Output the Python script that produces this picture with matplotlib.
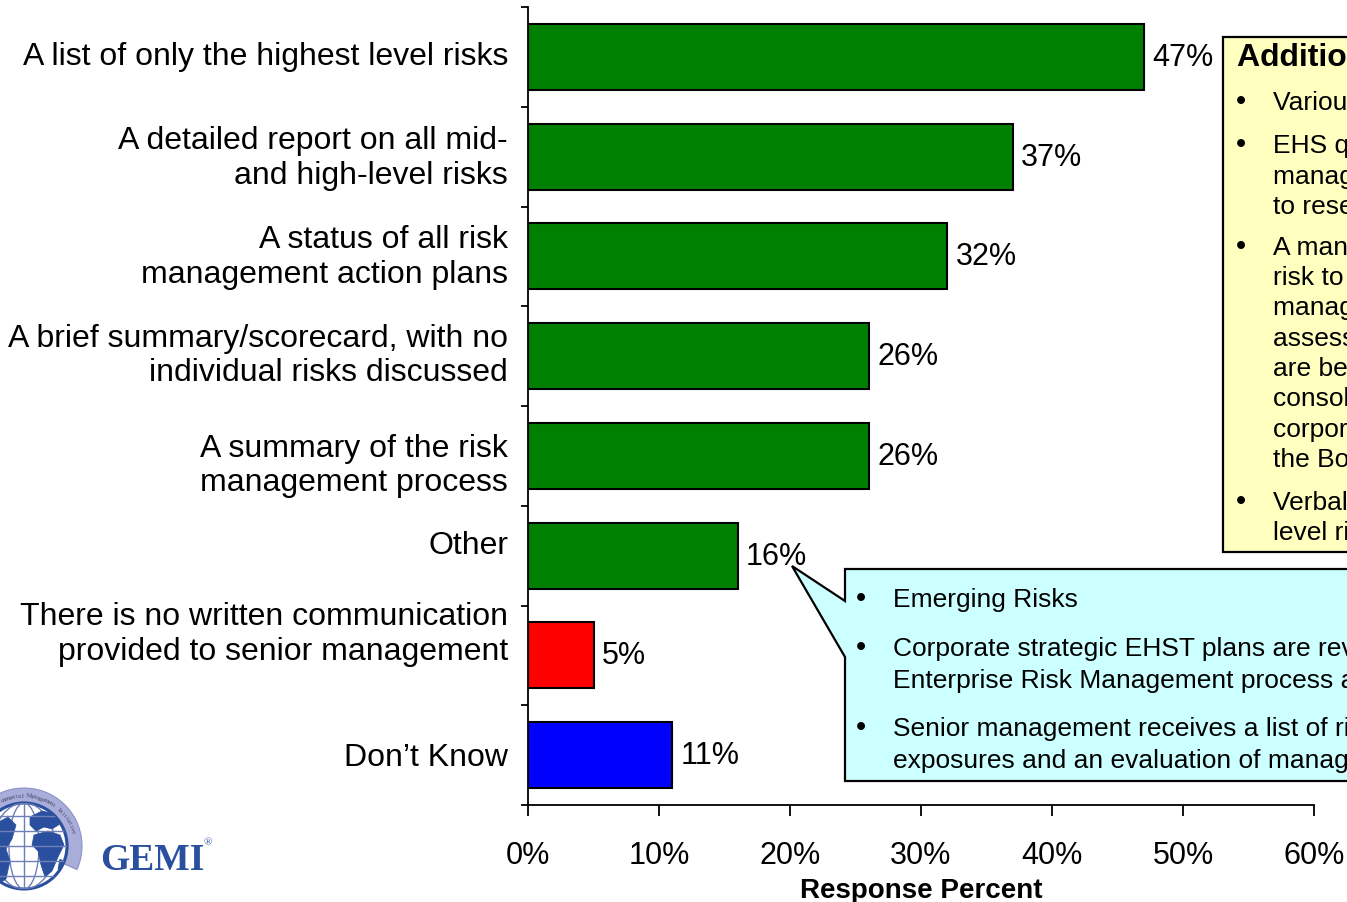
import numpy as np
import matplotlib
matplotlib.use("Agg")
import matplotlib.pyplot as plt
from matplotlib.patches import Rectangle, Polygon, Circle, Ellipse, Wedge
from matplotlib.transforms import ScaledTranslation

plt.rcParams['font.family'] = ['Liberation Sans', 'DejaVu Sans']

# ---- data -------------------------------------------------------------
categories = [
    "A list of only the highest level risks",
    "A detailed report on all mid-\nand high-level risks",
    "A status of all risk\nmanagement action plans",
    "A brief summary/scorecard, with no\nindividual risks discussed",
    "A summary of the risk\nmanagement process",
    "Other",
    "There is no written communication\nprovided to senior management",
    "Don\u2019t Know",
]
percent = [47, 37, 32, 26, 26, 16, 5, 11]
bar_colors = ["#008000"] * 6 + ["#FF0000", "#0000FF"]
x_ticks = [0, 10, 20, 30, 40, 50, 60]
x_label = "Response Percent"

additional_title = "Additional Responses"
additional_items = [
    ["Various formats"],
    ["EHS quarterly risk", "management reports", "to research teams"],
    ["A management review of", "risk to the business", "management teams", "assessments which", "are being",
     "consolidated at the", "corporate level for", "the Board"],
    ["Verbal reports on high-", "level risks"],
]
other_items = [
    ["Emerging Risks"],
    ["Corporate strategic EHST plans are reviewed within the",
     "Enterprise Risk Management process and approved"],
    ["Senior management receives a list of risk",
     "exposures and an evaluation of management actions"],
]

# ---- figure -----------------------------------------------------------
W, H = 1347, 903
fig = plt.figure(figsize=(W / 100, H / 100), dpi=100)
ax = fig.add_axes([528 / W, 1 - 806 / H, (1314 - 528) / W, (806 - 8) / H])

n = len(categories)
ypos = np.arange(n)
ax.barh(ypos, percent, height=0.66, color=bar_colors, edgecolor="black", linewidth=1.5, zorder=3)

for y, v in zip(ypos, percent):
    ax.text(v + 0.65, y, f"{v}%", ha="left", va="center", fontsize=22, zorder=4)

ax.set_xlim(0, 60)
ax.set_ylim(n - 0.5, -0.5)
ax.set_xticks(x_ticks)
ax.set_xticklabels([f"{t}%" for t in x_ticks], fontsize=22)
ax.tick_params(axis="x", direction="out", length=8, width=1.3, pad=17)
ax.set_yticks(np.arange(-0.5, n, 1.0))
ax.set_yticklabels([])
ax.tick_params(axis="y", direction="out", length=5, width=1.3)
for s in ("top", "right"):
    ax.spines[s].set_visible(False)
for s in ("left", "bottom"):
    ax.spines[s].set_linewidth(1.3)
ax.set_xlabel(x_label, fontsize=20, fontweight="bold", labelpad=5)

# category labels, right-aligned against the axis
label_shift_px = [-1, 1, 0, -1, 9, -11, -22, 2]
ytrans = ax.get_yaxis_transform()
for y, lab, dy in zip(ypos, categories, label_shift_px):
    tr = ytrans + ScaledTranslation(-20 / 100, -dy / 100, fig.dpi_scale_trans)
    ax.text(0, y, lab, transform=tr, ha="right", va="center", fontsize=23,
            linespacing=1.2, multialignment="right")

# ---- overlay in pixel coordinates -------------------------------------
ov = fig.add_axes([0, 0, 1, 1], zorder=5)
ov.set_xlim(0, W)
ov.set_ylim(H, 0)
ov.axis("off")
ov.patch.set_visible(False)

# yellow note box
ov.add_patch(Rectangle((1223, 38), 300, 515, facecolor="#FFFFC0", edgecolor="black", linewidth=1.6))
ov.text(1237, 66, additional_title, fontsize=23, fontweight="bold", va="baseline")
baselines_yellow = [[110], [153, 184, 214], [255, 285, 315, 346, 376, 406, 437, 467], [510, 540]]
for lines, bls in zip(additional_items, baselines_yellow):
    ov.text(1240.5, bls[0], "\u2022", fontsize=21, ha="center", va="baseline")
    for line, b in zip(lines, bls):
        ov.text(1273, b, line, fontsize=19, va="baseline")

# cyan callout pointing at the "Other" bar
callout = [(845, 570), (1420, 570), (1420, 782), (845, 782), (845, 658), (792, 567), (845, 602)]
ov.add_patch(Polygon(callout, closed=True, facecolor="#CCFFFF", edgecolor="black", linewidth=1.6))
baselines_cyan = [[607], [656, 688], [736, 768]]
for lines, bls in zip(other_items, baselines_cyan):
    ov.text(860.5, bls[0], "\u2022", fontsize=21, ha="center", va="baseline")
    for line, b in zip(lines, bls):
        ov.text(893, b, line, fontsize=19, va="baseline")

# ---- GEMI logo ----------------------------------------------------------
cx, cy, R = 24, 847, 43
logo_blue = "#2a4f9e"
ov.add_patch(Wedge((cx, cy), 58, -180, 24, width=14, facecolor="#A9ADD9", edgecolor="#8C92C8", linewidth=0.8))
globe = Circle((cx, cy), R, facecolor="white", edgecolor=logo_blue, linewidth=2.2)
ov.add_patch(globe)
clip = Circle((cx, cy), R, transform=ov.transData)
for k in (0.35, 0.72):
    e = Ellipse((cx, cy), 2 * R * k, 2 * R, facecolor="none", edgecolor="#6f7fb8", linewidth=1.0)
    ov.add_patch(e)
    e.set_clip_path(clip)
ln, = ov.plot([cx, cx], [cy - R, cy + R], color="#6f7fb8", linewidth=1.0)
ln.set_clip_path(clip)
for dy in (-30, -15, 0, 15, 30):
    hw = np.sqrt(R ** 2 - dy ** 2)
    l, = ov.plot([cx - hw, cx + hw], [cy + dy, cy + dy], color="#6f7fb8", linewidth=1.0)
    l.set_clip_path(clip)
continents = [
    [(30, 818), (42, 812), (55, 815), (60, 825), (52, 830), (44, 828), (36, 832), (30, 826)],
    [(34, 836), (48, 832), (60, 836), (64, 846), (58, 858), (52, 872), (45, 878), (41, 866), (38, 852), (32, 846)],
    [(-5, 825), (8, 818), (16, 826), (12, 840), (6, 850), (10, 862), (6, 880), (0, 884), (-5, 870)],
    [(60, 860), (66, 864), (64, 872), (58, 870)],
]
for pts in continents:
    p = Polygon(pts, closed=True, facecolor=logo_blue, edgecolor=logo_blue, linewidth=0.5)
    ov.add_patch(p)
    p.set_clip_path(clip)

arc_text = "Global Environmental Management Initiative"
r_txt = 51
step = np.degrees(3.0 / r_txt)
start = 105 + step * len("Global Environm")
for i, ch in enumerate(arc_text):
    th = start - i * step
    x = cx + r_txt * np.cos(np.radians(th))
    y = cy - r_txt * np.sin(np.radians(th))
    ov.text(x, y, ch, fontsize=5, family="Liberation Serif", color="#4a4a6a",
            rotation=th - 90, ha="center", va="center", rotation_mode="anchor")

ov.text(100, 870, "GEMI", fontsize=27, family="Liberation Serif", fontweight="bold",
        color=logo_blue, va="baseline")
ov.text(204, 845, "\u00ae", fontsize=8, family="Liberation Serif", color=logo_blue, va="baseline")

fig.savefig("out.png", dpi=100)
